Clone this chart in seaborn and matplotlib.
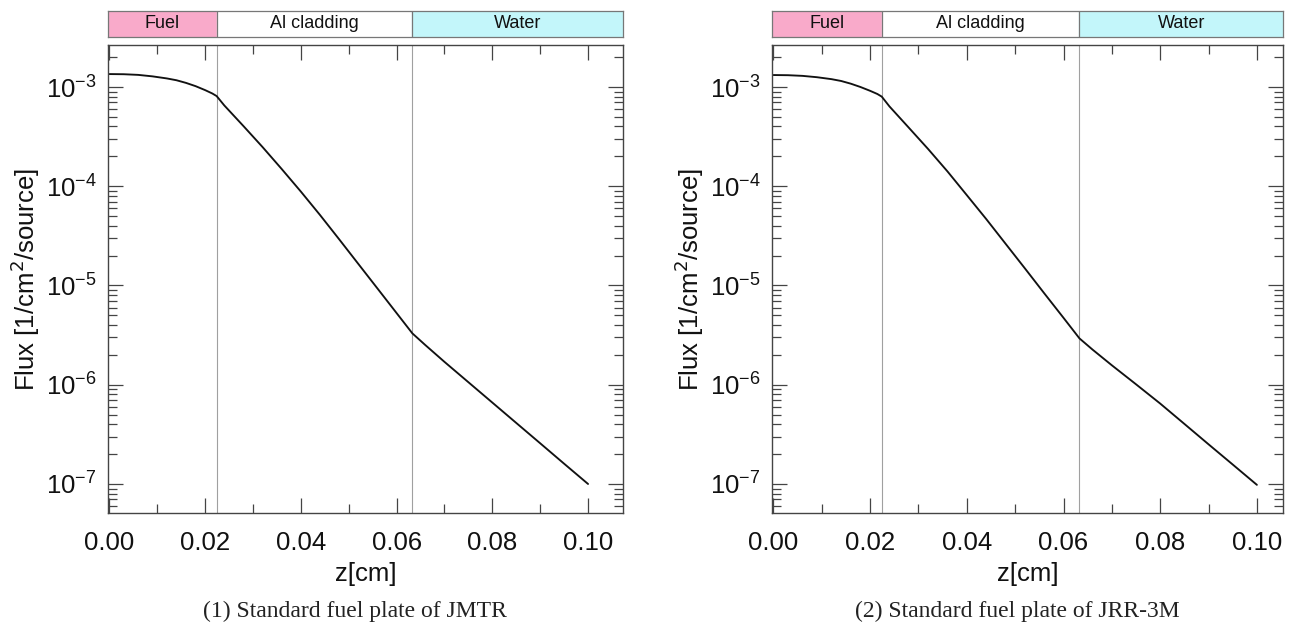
import numpy as np
import pandas as pd
import matplotlib
matplotlib.use("Agg")
import matplotlib.pyplot as plt
import seaborn as sns
from matplotlib.ticker import LogLocator, LogFormatterSciNotation, MultipleLocator, NullFormatter

# ---------------- data ----------------
z_cm = [0.000, 0.003, 0.006, 0.009, 0.012, 0.014, 0.016, 0.018, 0.020, 0.0215, 0.0224,
        0.0240, 0.0280, 0.0320, 0.0360, 0.0400, 0.0440, 0.0480, 0.0520, 0.0560, 0.0600,
        0.0633, 0.0660, 0.0700, 0.0750, 0.0800, 0.0850, 0.0900, 0.0950, 0.1000]

flux_jmtr = [1.35e-3, 1.345e-3, 1.325e-3, 1.28e-3, 1.22e-3, 1.17e-3, 1.10e-3, 1.02e-3, 9.3e-4, 8.6e-4, 8.1e-4,
             6.52e-4, 4.04e-4, 2.48e-4, 1.49e-4, 8.83e-5, 5.13e-5, 2.92e-5, 1.65e-5, 9.33e-6, 5.27e-6,
             3.29e-6, 2.51e-6, 1.70e-6, 1.06e-6, 6.61e-7, 4.12e-7, 2.57e-7, 1.60e-7, 1.0e-7]

flux_jrr3m = [1.32e-3, 1.315e-3, 1.295e-3, 1.255e-3, 1.20e-3, 1.15e-3, 1.08e-3, 1.00e-3, 9.15e-4, 8.5e-4, 8.0e-4,
              6.37e-4, 3.89e-4, 2.37e-4, 1.41e-4, 8.13e-5, 4.68e-5, 2.64e-5, 1.49e-5, 8.36e-6, 4.72e-6,
              2.93e-6, 2.26e-6, 1.57e-6, 1.01e-6, 6.46e-7, 4.03e-7, 2.51e-7, 1.57e-7, 9.8e-8]

region_names = ["Fuel", "Al cladding", "Water"]
region_bounds = [0.0224, 0.0633]          # material interfaces [cm]
region_colors = ["#F9AACA", "#FFFFFF", "#C3F6FA"]

captions = ["(1) Standard fuel plate of JMTR", "(2) Standard fuel plate of JRR-3M"]
x_label = "z[cm]"
y_label = "Flux [1/cm$^2$/source]"
x_ticks = [0.00, 0.02, 0.04, 0.06, 0.08, 0.10]

# ---------------- style ----------------
sns.set_theme(style="ticks")
plt.rcParams["font.family"] = ["Liberation Sans", "DejaVu Sans"]
plt.rcParams["axes.unicode_minus"] = True

W, H = 1290, 641
fig = plt.figure(figsize=(W / 100, H / 100), dpi=100)

panels = [
    dict(flux=flux_jmtr, left=108, right=623, xmax=0.1073, cap_x=355),
    dict(flux=flux_jrr3m, left=772, right=1283, xmax=0.1054, cap_x=1017),
]
ax_top, ax_bot = 45, 513
band_top, band_bot = 11, 37
xmin = -0.0003
spine_col = "#444444"

for p, cap in zip(panels, captions):
    l, r = p["left"], p["right"]
    ax = fig.add_axes([l / W, 1 - ax_bot / H, (r - l) / W, (ax_bot - ax_top) / H])
    df = pd.DataFrame({"z": z_cm, "flux": p["flux"]})
    sns.lineplot(data=df, x="z", y="flux", ax=ax, color="#111111", linewidth=1.35,
                 estimator=None, sort=False)
    ax.set_yscale("log")
    ax.set_xlim(xmin, p["xmax"])
    ax.set_ylim(5.1e-8, 2.65e-3)
    for b in region_bounds:
        ax.axvline(b, color="#a0a0a0", linewidth=0.8, zorder=0)

    ax.set_xticks(x_ticks)
    ax.set_xticklabels([f"{t:.2f}" for t in x_ticks])
    ax.xaxis.set_minor_locator(MultipleLocator(0.01))
    ax.yaxis.set_major_locator(LogLocator(base=10, numticks=20))
    ax.yaxis.set_minor_locator(LogLocator(base=10, subs=np.arange(2, 10), numticks=50))
    ax.yaxis.set_major_formatter(LogFormatterSciNotation())
    ax.yaxis.set_minor_formatter(NullFormatter())

    ax.tick_params(which="both", direction="in", top=True, right=True,
                   color=spine_col, width=0.9, labelsize=18.5, labelcolor="#111111")
    ax.tick_params(which="major", length=10.5)
    ax.tick_params(axis="y", which="major", pad=8)
    ax.tick_params(axis="x", which="major", pad=13)
    ax.tick_params(which="minor", length=6.5)
    for s in ax.spines.values():
        s.set_color(spine_col)
        s.set_linewidth(1.0)

    ax.set_xlabel(x_label, fontsize=18.5, labelpad=5, color="#111111")
    ax.set_ylabel(y_label, fontsize=18.5, labelpad=3, color="#111111")

    # material band on top
    bax = fig.add_axes([l / W, 1 - band_bot / H, (r - l) / W, (band_bot - band_top) / H])
    edges = [xmin] + region_bounds + [p["xmax"]]
    for i, name in enumerate(region_names):
        bax.axvspan(edges[i], edges[i + 1], color=region_colors[i], zorder=0)
        if i > 0:
            bax.axvline(edges[i], color="#777777", linewidth=0.9)
        bax.text((edges[i] + edges[i + 1]) / 2, 0.5, name, ha="center", va="center",
                 fontsize=13, color="#111111")
    bax.set_xlim(xmin, p["xmax"])
    bax.set_ylim(0, 1)
    bax.set_xticks([])
    bax.set_yticks([])
    for s in bax.spines.values():
        s.set_color("#777777")
        s.set_linewidth(0.9)

    fig.text(p["cap_x"] / W, 1 - 611 / H, cap, ha="center", va="center",
             fontsize=17, family=["Liberation Serif", "DejaVu Serif"], color="#222222")

fig.savefig("out.png", dpi=100)
